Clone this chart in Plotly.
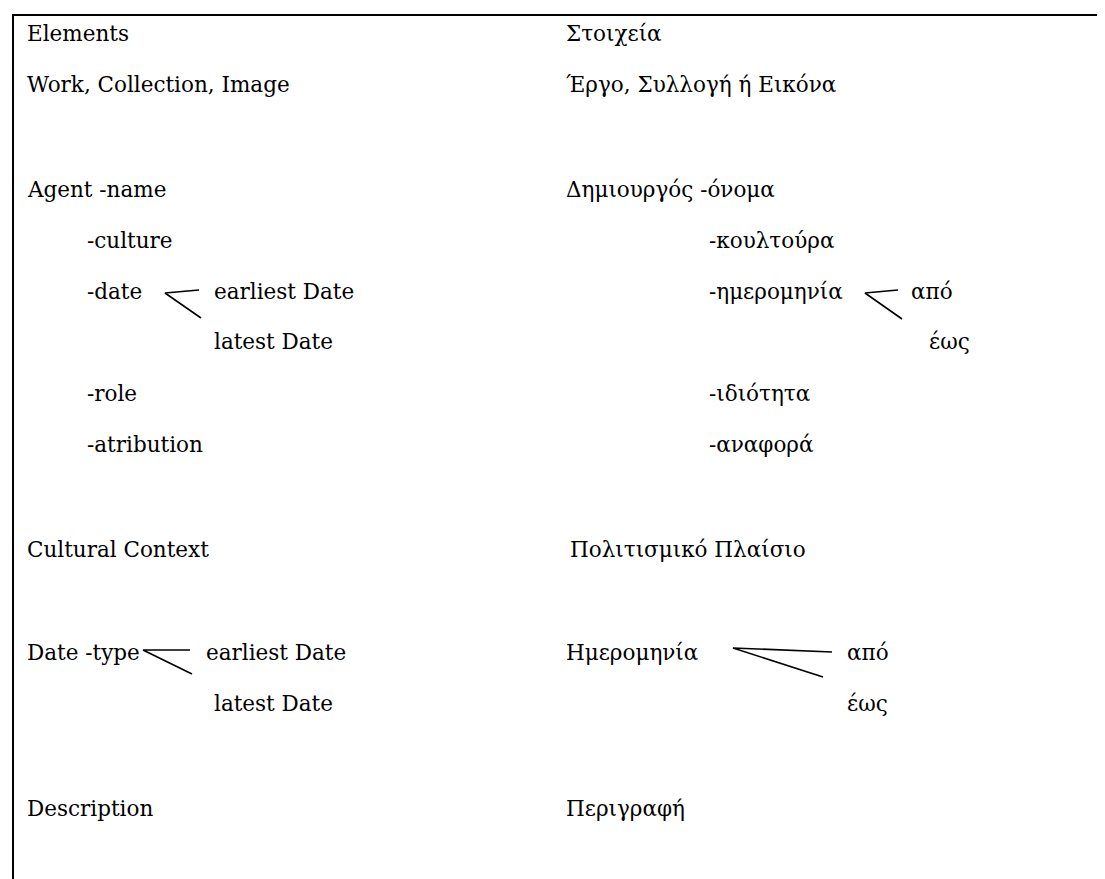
import plotly.graph_objects as go

W, H = 1105, 879
OFF = 8  # default page body margin

# Left column (English)
en_labels = ["Elements", "Work, Collection, Image", "Agent -name", "-culture", "-date",
             "earliest Date", "latest Date", "-role", "-atribution", "Cultural Context",
             "Date -type", "earliest Date", "latest Date", "Description"]
en_x = [26, 26, 26, 86, 86, 213, 213, 86, 86, 26, 26, 205, 213, 26]
en_y = [33, 84, 189, 240, 291, 291, 341, 393, 444, 549, 652, 652, 703, 808]

# Right column (Greek)
gr_labels = ["Στοιχεία", "Έργο, Συλλογή ή Εικόνα", "Δημιουργός -όνομα", "-κουλτούρα",
             "-ημερομηνία", "από", "έως", "-ιδιότητα", "-αναφορά", "Πολιτισμικό Πλαίσιο",
             "Ημερομηνία", "από", "έως", "Περιγραφή"]
gr_x = [565, 565, 565, 708, 708, 910, 928, 708, 708, 569, 565, 846, 846, 565]
gr_y = [33, 84, 189, 240, 291, 291, 341, 393, 444, 549, 652, 652, 703, 808]

# Branch connectors: (upper end, vertex, lower end)
branch_x = [[199, 165, 201], [898, 865, 902], [190, 143, 192], [832, 733, 823]]
branch_y = [[290, 293, 318], [290, 293, 319], [650, 650, 674], [652, 648, 677]]

fig = go.Figure()

for bx, by in zip(branch_x, branch_y):
    fig.add_trace(go.Scatter(x=bx, y=by, mode="lines",
                             line=dict(color="black", width=1.6),
                             hoverinfo="skip", showlegend=False))

FAMILY = "DejaVu Serif"
font = dict(family=FAMILY, size=21.5, color="black")
for labels, xs, ys in [(en_labels, en_x, en_y), (gr_labels, gr_x, gr_y)]:
    for t, x, y in zip(labels, xs, ys):
        fig.add_annotation(x=x, y=y, text=t, showarrow=False, xanchor="left",
                           yanchor="middle", font=font, xref="x", yref="y",
                           borderpad=0)

# frame: top and left borders
fig.add_shape(type="line", x0=12, x1=W, y0=15, y1=15, line=dict(color="black", width=2))
fig.add_shape(type="line", x0=13, x1=13, y0=15, y1=H, line=dict(color="black", width=2))

fig.update_layout(
    width=W - OFF, height=H - OFF,
    margin=dict(l=0, r=0, t=0, b=0),
    paper_bgcolor="white", plot_bgcolor="white",
    font=dict(family=FAMILY),
    xaxis=dict(range=[OFF, W], visible=False, fixedrange=True),
    yaxis=dict(range=[H, OFF], visible=False, fixedrange=True),
    showlegend=False,
)

fig.write_html("out.html")
